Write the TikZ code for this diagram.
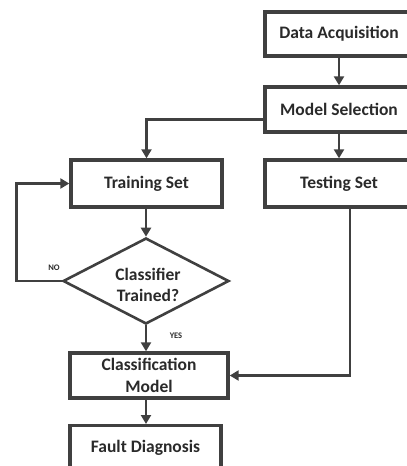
\documentclass[tikz,border=0pt]{standalone}
\usepackage{fontspec}
\setmainfont{Carlito}
\usetikzlibrary{shapes.geometric,arrows.meta,calc}
\definecolor{ink}{HTML}{404040}
\definecolor{txt}{HTML}{2A2A2A}
\tikzset{
  stepbox/.style={draw=ink, line width=3.4pt, fill=white, inner sep=0pt,
    text=txt, font=\bfseries\fontsize{17.5}{21.5}\selectfont, align=center},
  decbox/.style={diamond, draw=ink, line width=2.6pt, fill=white, inner sep=0pt,
    minimum width=166pt, minimum height=86pt},
  dectext/.style={inner sep=0pt, text=txt, align=center,
    font=\bfseries\fontsize{17.5}{21}\selectfont},
  flow/.style={draw=ink, line width=2.6pt,
    -{Triangle[width=10pt,length=9pt]}},
  tag/.style={text=txt, font=\bfseries\fontsize{8.5}{9}\selectfont, inner sep=0pt}
}
\begin{document}
\begin{tikzpicture}[x=1pt,y=-1pt]
  \useasboundingbox (0,0) rectangle (407,466);
  \clip (0,0) rectangle (407,466);

  % process boxes
  \node[stepbox, minimum width=148pt, minimum height=44pt] (da) at (339,34) {Data Acquisition};
  \node[stepbox, minimum width=148pt, minimum height=45pt] (ms) at (339,109.5) {Model Selection};
  \node[stepbox, minimum width=151pt, minimum height=47pt] (tr) at (146.5,183.5) {Training Set};
  \node[stepbox, minimum width=148pt, minimum height=47pt] (te) at (339,183.5) {Testing Set};
  \node[stepbox, minimum width=158pt, minimum height=45pt] (cm) at (149,375.5) {Classification\\Model};
  \node[stepbox, minimum width=151pt, minimum height=44pt, anchor=north] (fd) at (145.5,424) {Fault Diagnosis};

  % decision
  \node[decbox] (dec) at (146,281) {};
  \node[dectext] (dectxt) at (148,285) {Classifier\\Trained?};

  % connectors
  \draw[flow] (da) -- (ms);
  \draw[flow] (ms) -- (te);
  \draw[flow] ([yshift=-10pt]ms.west) -| (tr.north);
  \draw[flow] (tr.south -| dec.north) -- (dec.north);
  \draw[flow] (dec.west) -- ++(-45,0) |- (tr.west);
  \draw[flow] (dec.south) -- (dec.south |- cm.north);
  \draw[flow] ([xshift=11pt]te.south) |- (cm.east);
  \draw[flow] (cm.south -| dec.south) -- (dec.south |- fd.north);

  % branch labels
  \node[tag] (no) at (54,268) {NO};
  \node[tag] (yes) at (176,336) {YES};
\end{tikzpicture}
\end{document}
